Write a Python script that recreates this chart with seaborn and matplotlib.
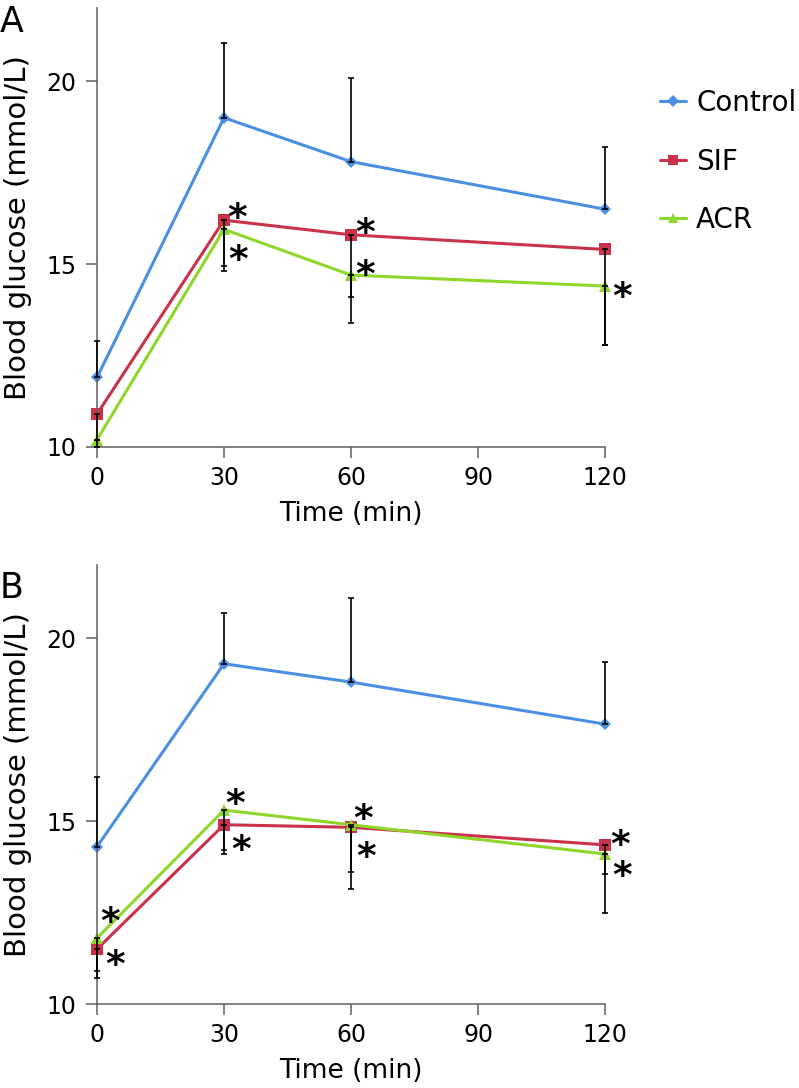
import pandas as pd
import seaborn as sns
import matplotlib.pyplot as plt
from matplotlib.lines import Line2D

sns.set_style("ticks")
plt.rcParams['font.family'] = ['DejaVu Sans']
plt.rcParams['text.color'] = 'black'
plt.rcParams['axes.labelcolor'] = 'black'

times = [0, 30, 60, 120]
groups = ["Control", "SIF", "ACR"]

# panel A, mean values and one-sided error bars
a_control = [11.9, 19.0, 17.8, 16.5]
a_sif = [10.9, 16.2, 15.8, 15.4]
a_acr = [10.2, 15.95, 14.7, 14.4]
a_control_err = [1.0, 2.05, 2.3, 1.7]   # up
a_sif_err = [0.7, 1.4, 1.7, 2.6]        # down
a_acr_err = [0.2, 1.0, 1.3, 1.6]        # down
a_stars = [("SIF", 30), ("ACR", 30), ("SIF", 60), ("ACR", 60), ("ACR", 120)]

# panel B
b_control = [14.3, 19.3, 18.8, 17.65]
b_sif = [11.5, 14.9, 14.83, 14.35]
b_acr = [11.8, 15.3, 14.9, 14.1]
b_control_err = [1.9, 1.4, 2.3, 1.7]
b_sif_err = [0.8, 0.8, 1.7, 0.8]
b_acr_err = [0.9, 1.1, 1.3, 1.6]
b_stars = [("ACR", 0), ("SIF", 0), ("ACR", 30), ("SIF", 30),
           ("ACR", 60), ("SIF", 60), ("SIF", 120), ("ACR", 120)]

palette = {"Control": "#4a8fe2", "SIF": "#c8324a", "ACR": "#8fd62b"}
markers = {"Control": "D", "SIF": "s", "ACR": "^"}
msize = {"Control": 6.5, "SIF": 8.5, "ACR": 8.5}
axis_col = "#5f5f5f"

# star offsets in pixels (right, down) from the point
a_star_px = [(13, -13), (14, 19), (14, -13), (14, -11), (17, 0)]
b_star_px = [(13, -27), (18, 5), (11, -17), (17, 14), (12, -17), (15, 18), (15, -11), (17, 11)]


def draw_panel(ax, means, errs, stars, star_px):
    df = pd.DataFrame({
        "time": times * 3,
        "glucose": means["Control"] + means["SIF"] + means["ACR"],
        "group": sum([[g] * len(times) for g in groups], []),
    })
    sns.lineplot(data=df, x="time", y="glucose", hue="group", style="group",
                 hue_order=groups, style_order=groups, palette=palette,
                 markers=markers, dashes=False, linewidth=2.2, markersize=8.5,
                 markeredgewidth=0, legend=False, ax=ax)
    for line in ax.lines:
        line.set_clip_on(False)
        if line.get_marker() == "D":
            line.set_markersize(msize["Control"])
    for g in groups:
        zeros = [0] * len(times)
        yerr = [zeros, errs[g]] if g == "Control" else [errs[g], zeros]
        ax.errorbar(times, means[g], yerr=yerr, fmt="none", ecolor="black",
                    elinewidth=1.2, capsize=2.5, capthick=1.2, zorder=3, clip_on=False)
    for (g, t), (dx, dy) in zip(stars, star_px):
        y = means[g][times.index(t)]
        ax.annotate("*", xy=(t, y), xytext=(dx * 0.72, -dy * 0.72 - 16),
                    textcoords="offset points", ha="center", va="baseline",
                    fontsize=27, fontweight="bold", color="black", annotation_clip=False)

    ax.set_xlim(0, 120)
    ax.set_ylim(10, 22)
    ax.set_xticks([0, 30, 60, 90, 120])
    ax.set_yticks([10, 15, 20])
    sns.despine(ax=ax)
    for s in ["left", "bottom"]:
        ax.spines[s].set_color(axis_col)
        ax.spines[s].set_linewidth(1.1)
    ax.tick_params(direction="out", length=8, width=1.1, color=axis_col,
                   labelsize=17, labelcolor="black")
    ax.tick_params(axis="y", pad=7)
    ax.tick_params(axis="x", pad=5.5)
    ax.set_xlabel("Time (min)", fontsize=19)
    ax.set_ylabel("Blood glucose (mmol/L)", fontsize=21)
    ax.xaxis.set_label_coords(0.5, -0.124)
    ax.yaxis.set_label_coords(-0.128, 0.5)


fig = plt.figure(figsize=(7.99, 10.88), dpi=100)
ax_a = fig.add_axes([97 / 799, 1 - 447 / 1088, 508 / 799, 439 / 1088])
ax_b = fig.add_axes([97 / 799, 1 - 1004 / 1088, 508 / 799, 439 / 1088])

draw_panel(ax_a,
           {"Control": a_control, "SIF": a_sif, "ACR": a_acr},
           {"Control": a_control_err, "SIF": a_sif_err, "ACR": a_acr_err},
           a_stars, a_star_px)
draw_panel(ax_b,
           {"Control": b_control, "SIF": b_sif, "ACR": b_acr},
           {"Control": b_control_err, "SIF": b_sif_err, "ACR": b_acr_err},
           b_stars, b_star_px)

handles = [Line2D([0], [0], color=palette[g], marker=markers[g], markersize=msize[g] * 0.9,
                  markeredgewidth=0, lw=2.2) for g in groups]
ax_a.legend(handles, groups, loc="upper left", bbox_to_anchor=(660 / 799, 1 - 89 / 1088),
            bbox_transform=fig.transFigure, frameon=False, fontsize=20,
            handlelength=0.95, handletextpad=0.35, labelspacing=1.1,
            borderpad=0, borderaxespad=0)

fig.text(0.0, 1 - 32 / 1088, "A", fontsize=25, ha="left", va="baseline")
fig.text(0.0, 1 - 598 / 1088, "B", fontsize=25, ha="left", va="baseline")

fig.savefig("out.png", dpi=100)
